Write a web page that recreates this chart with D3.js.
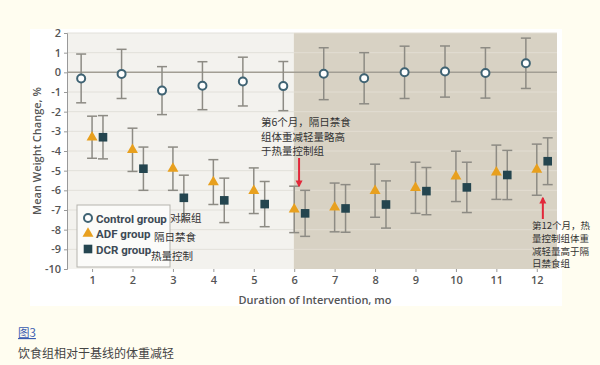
<!DOCTYPE html>
<html>
<head>
<meta charset="utf-8">
<script src="https://cdn.jsdelivr.net/npm/d3@7"></script>
<style>
  body { margin: 0; background: #fffdf0; }
  svg { display: block; }
  .tick text { font-family: "Open Sans", sans-serif; fill: #555; }
  .cn { font-family: "Noto Sans CJK SC", sans-serif; fill: #333; }
</style>
</head>
<body>
<script>
(function () {

    //chart data
    var months = [1, 2, 3, 4, 5, 6, 7, 8, 9, 10, 11, 12];
    var controlMean = [-0.31, -0.08, -0.93, -0.68, -0.47, -0.70, -0.07, -0.30, 0.00, 0.04, -0.03, 0.46];
    var controlErr  = [1.24, 1.25, 1.22, 1.22, 1.24, 1.25, 1.32, 1.30, 1.33, 1.30, 1.28, 1.28];
    var adfMean = [-3.30, -3.94, -4.90, -5.58, -6.02, -6.97, -6.87, -6.02, -5.87, -5.29, -5.08, -4.95];
    var adfErr  = [1.07, 1.10, 1.10, 1.14, 1.16, 1.18, 1.24, 1.35, 1.30, 1.28, 1.38, 1.30];
    var dcrMean = [-3.30, -4.90, -6.38, -6.51, -6.70, -7.17, -6.92, -6.72, -6.04, -5.85, -5.22, -4.52];
    var dcrErr  = [1.10, 1.10, 1.15, 1.13, 1.15, 1.17, 1.21, 1.20, 1.20, 1.28, 1.25, 1.19];
    var yTicks = [2, 1, 0, -1, -2, -3, -4, -5, -6, -7, -8, -9, -10];
    var legendLabels = ["Control group", "ADF group", "DCR group"];
    var legendCn = ["对照组", "隔日禁食", "热量控制"];
    var note6 = ["第6个月，隔日禁食", "组体重减轻量略高", "于热量控制组"];
    var note12 = ["第12个月，热", "量控制组体重", "减轻量高于隔", "日禁食组"];

    var width = 600, height = 365;
    var plot = {left: 67, right: 557, top: 33, bottom: 269};

    var svg = d3.select("body").append("svg")
        .attr("width", width)
        .attr("height", height);

    //page background and white figure panel
    svg.append("rect").attr("width", width).attr("height", height).attr("fill", "#fffdf0");
    svg.append("rect")
        .attr("x", 30).attr("y", 29).attr("width", 532).attr("height", 277)
        .attr("fill", "#ffffff");

    var x = d3.scaleLinear().domain([0.38, 12.5]).range([plot.left, plot.right]);
    var y = d3.scaleLinear().domain([-10, 2]).range([plot.bottom, plot.top]);
    var off = 0.27; //group offset in months

    //plot backgrounds: light before month 6, tan after
    svg.append("rect")
        .attr("x", plot.left).attr("y", plot.top)
        .attr("width", x(5.99) - plot.left).attr("height", plot.bottom - plot.top)
        .attr("fill", "#f3f2ee");
    svg.append("rect")
        .attr("x", x(5.99)).attr("y", plot.top)
        .attr("width", plot.right - x(5.99)).attr("height", plot.bottom - plot.top)
        .attr("fill", "#d8d2c4");

    //gridlines
    var gridVals = yTicks.filter(function (d) { return d !== 0 && d !== -10; });
    svg.selectAll(".gridL")
        .data(gridVals)
        .enter().append("line")
        .attr("x1", plot.left).attr("x2", x(5.99))
        .attr("y1", function (d) { return y(d); })
        .attr("y2", function (d) { return y(d); })
        .attr("stroke", "#e2e0da").attr("stroke-width", 1);
    svg.selectAll(".gridR")
        .data(gridVals)
        .enter().append("line")
        .attr("x1", x(5.99)).attr("x2", plot.right)
        .attr("y1", function (d) { return y(d); })
        .attr("y2", function (d) { return y(d); })
        .attr("stroke", "#e2ddd2").attr("stroke-width", 1);

    //zero line
    svg.append("line")
        .attr("x1", plot.left).attr("x2", plot.right)
        .attr("y1", y(0)).attr("y2", y(0))
        .attr("stroke", "#a29e94").attr("stroke-width", 1.5);

    //y axis
    var yAxis = d3.axisLeft(y).tickValues(yTicks).tickSize(3).tickPadding(3)
        .tickFormat(function (d) { return String(d); });
    var yg = svg.append("g").attr("transform", "translate(" + plot.left + ",0)").call(yAxis);
    yg.select(".domain").attr("stroke", "#999");
    yg.selectAll(".tick line").attr("stroke", "#999");
    yg.selectAll(".tick text").style("font-size", "11px").style("font-weight", 600);

    //x axis
    var xAxis = d3.axisBottom(x).tickValues(months).tickSize(3).tickPadding(4);
    var xg = svg.append("g").attr("transform", "translate(0," + plot.bottom + ")").call(xAxis);
    xg.select(".domain").remove();
    xg.selectAll(".tick line").attr("stroke", "#999");
    xg.selectAll(".tick text").style("font-size", "11px").style("font-weight", 600);

    //axis titles
    svg.append("text")
        .attr("transform", "translate(41," + y(-4) + ") rotate(-90)")
        .attr("text-anchor", "middle")
        .style("font-family", "Open Sans, sans-serif")
        .style("font-size", "11px").style("font-weight", 600)
        .attr("fill", "#555")
        .text("Mean Weight Change, %");
    svg.append("text")
        .attr("x", (plot.left + plot.right) / 2 + 3).attr("y", 304)
        .attr("text-anchor", "middle")
        .style("font-family", "Open Sans, sans-serif")
        .style("font-size", "11px").style("font-weight", 600)
        .attr("fill", "#555")
        .text("Duration of Intervention, mo");

    //build series for drawing
    var series = [
        {name: "control", mean: controlMean, err: controlErr, dx: -off},
        {name: "adf", mean: adfMean, err: adfErr, dx: 0},
        {name: "dcr", mean: dcrMean, err: dcrErr, dx: off}
    ];

    var errColor = "#8d8b84";
    series.forEach(function (s) {
        var pts = months.map(function (m, i) {
            return {m: m + s.dx, v: s.mean[i], e: s.err[i]};
        });
        var g = svg.append("g").attr("class", "series " + s.name);
        var bars = g.selectAll(".eb").data(pts).enter().append("g");
        bars.append("line")
            .attr("x1", function (d) { return x(d.m); })
            .attr("x2", function (d) { return x(d.m); })
            .attr("y1", function (d) { return y(d.v + d.e); })
            .attr("y2", function (d) { return y(d.v - d.e); })
            .attr("stroke", errColor).attr("stroke-width", 1.5);
        [1, -1].forEach(function (sign) {
            bars.append("line")
                .attr("x1", function (d) { return x(d.m) - 5; })
                .attr("x2", function (d) { return x(d.m) + 5; })
                .attr("y1", function (d) { return y(d.v + sign * d.e); })
                .attr("y2", function (d) { return y(d.v + sign * d.e); })
                .attr("stroke", errColor).attr("stroke-width", 1.5);
        });
        s.pts = pts;
        s.g = g;
    });

    //markers
    function drawMarker(sel, type) {
        if (type === "control") {
            sel.append("circle").attr("r", 4)
                .attr("fill", "#ffffff").attr("stroke", "#3f6373").attr("stroke-width", 2);
        } else if (type === "adf") {
            sel.append("path").attr("d", d3.symbol().type(d3.symbolTriangle).size(52))
                .attr("fill", "#e8a01e");
        } else {
            sel.append("rect").attr("x", -4.3).attr("y", -4.3).attr("width", 8.6).attr("height", 8.6)
                .attr("fill", "#24454f");
        }
    }
    series.forEach(function (s) {
        var marks = s.g.selectAll(".mk").data(s.pts).enter().append("g")
            .attr("transform", function (d) { return "translate(" + x(d.m) + "," + y(d.v) + ")"; });
        drawMarker(marks, s.name);
    });

    //legend
    var leg = svg.append("g");
    leg.append("rect")
        .attr("x", 77).attr("y", 205).attr("width", 93).attr("height", 62)
        .attr("fill", "#fbfbf9").attr("stroke", "#b5b3ad").attr("stroke-width", 1);
    var legItems = leg.selectAll(".li").data(series).enter().append("g")
        .attr("transform", function (d, i) { return "translate(88," + (218 + i * 15.5) + ")"; });
    legItems.each(function (d) { drawMarker(d3.select(this), d.name); });
    legItems.append("text")
        .attr("x", 8).attr("y", 4.5)
        .style("font-family", "Roboto, sans-serif")
        .style("font-size", "11.5px").style("font-weight", 700)
        .attr("fill", "#3d4a55")
        .text(function (d, i) { return legendLabels[i]; });

    //chinese legend notes
    var cnPos = [[170, 222], [154, 241], [151, 260]];
    svg.selectAll(".cnleg").data(legendCn).enter().append("text")
        .attr("class", "cn")
        .attr("x", function (d, i) { return cnPos[i][0]; })
        .attr("y", function (d, i) { return cnPos[i][1]; })
        .style("font-size", "10.5px")
        .text(function (d) { return d; });

    //annotations with red arrows
    svg.append("defs").append("marker")
        .attr("id", "arrowhead").attr("viewBox", "0 0 10 10")
        .attr("refX", 8).attr("refY", 5)
        .attr("markerWidth", 3.5).attr("markerHeight", 4.5)
        .attr("orient", "auto")
        .append("path").attr("d", "M0,0 L10,5 L0,10 Z").attr("fill", "#e2283a");

    svg.append("line")
        .attr("x1", x(6.12)).attr("x2", x(6.12))
        .attr("y1", 158).attr("y2", 186)
        .attr("stroke", "#e2283a").attr("stroke-width", 2)
        .attr("marker-end", "url(#arrowhead)");
    svg.append("line")
        .attr("x1", x(12.15)).attr("x2", x(12.15))
        .attr("y1", 219).attr("y2", 198)
        .attr("stroke", "#e2283a").attr("stroke-width", 2)
        .attr("marker-end", "url(#arrowhead)");

    svg.selectAll(".n6").data(note6).enter().append("text")
        .attr("class", "cn")
        .attr("x", 261).attr("y", function (d, i) { return 126 + i * 14.5; })
        .style("font-size", "10.5px")
        .text(function (d) { return d; });
    svg.selectAll(".n12").data(note12).enter().append("text")
        .attr("class", "cn")
        .attr("x", 532).attr("y", function (d, i) { return 229 + i * 12.8; })
        .style("font-size", "9.5px")
        .text(function (d) { return d; });

    //caption
    svg.append("text")
        .attr("class", "cn")
        .attr("x", 18).attr("y", 337)
        .style("font-size", "11.5px")
        .style("fill", "#3a5cb0")
        .style("text-decoration", "underline")
        .text("图3");
    svg.append("text")
        .attr("class", "cn")
        .attr("x", 18).attr("y", 358)
        .style("font-size", "12px")
        .style("fill", "#444")
        .text("饮食组相对于基线的体重减轻");

})();
</script>
</body>
</html>
